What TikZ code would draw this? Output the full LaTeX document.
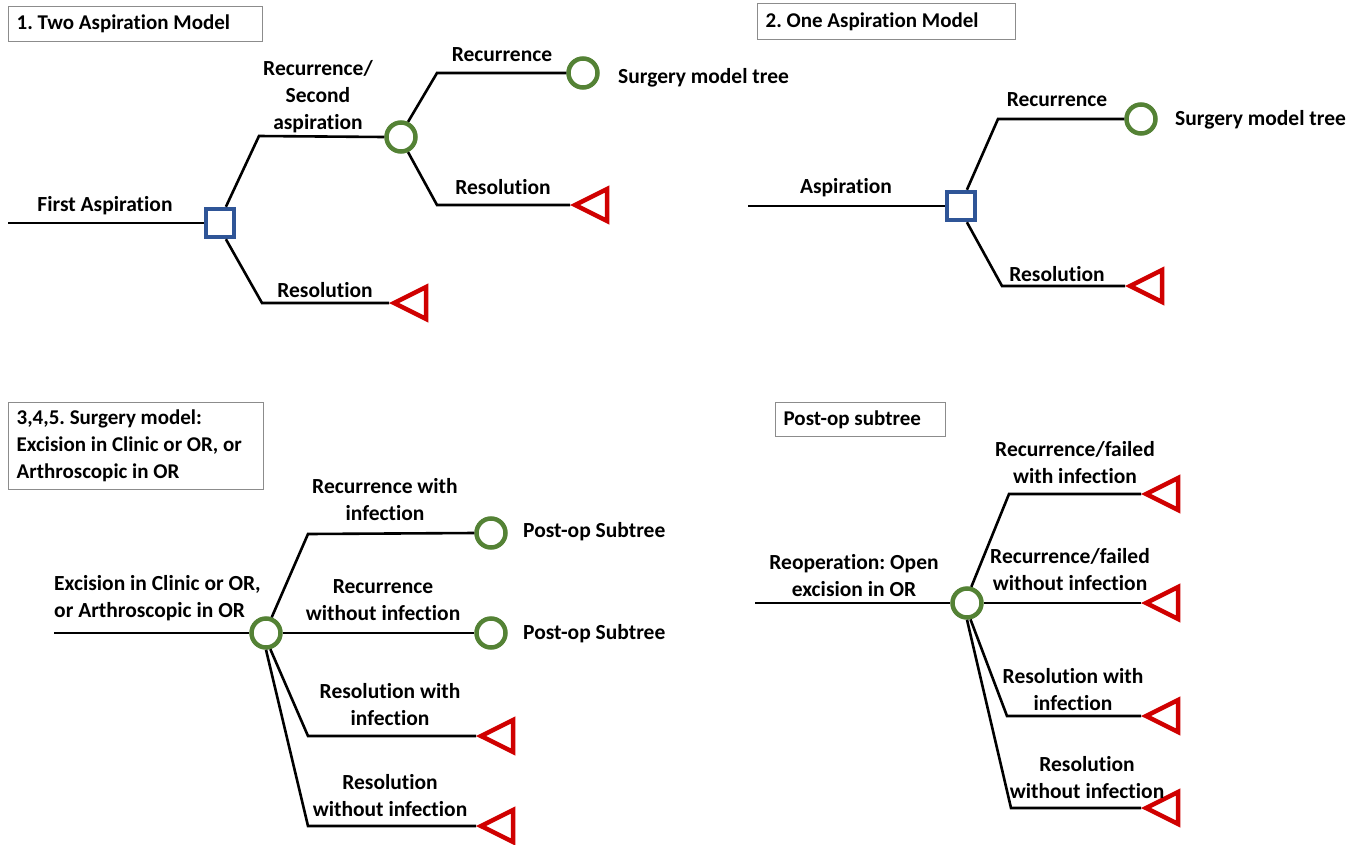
\documentclass[tikz,border=0pt]{standalone}
\usepackage{fontspec}
\setmainfont{Carlito}[Ligatures=NoCommon]
\usetikzlibrary{shapes.geometric}
\frenchspacing

\definecolor{decisionblue}{RGB}{47,85,151}
\definecolor{chancegreen}{RGB}{84,130,53}
\definecolor{endred}{RGB}{208,0,0}
\definecolor{boxgray}{RGB}{140,140,140}

\tikzset{
  branch/.style={line width=2.6pt, black},
  decision/.style={draw=decisionblue, line width=4.5pt, fill=white, minimum size=28pt, inner sep=0pt},
  chance/.style={draw=chancegreen, line width=4.5pt, fill=white, circle, minimum size=29pt, inner sep=0pt},
  terminal/.style={draw=endred, line width=4.5pt, fill=white, isosceles triangle, isosceles triangle apex angle=53,
    shape border rotate=180, minimum size=32pt, inner sep=0pt, anchor=apex},
  lbl/.style={font=\fontsize{21.5}{27}\selectfont\bfseries, align=center, inner sep=0pt},
  titlebox/.style={draw=boxgray, line width=1.3pt, font=\fontsize{21}{27}\selectfont\bfseries, align=flush left,
    anchor=north west, inner xsep=8pt, inner ysep=0pt}
}

\begin{document}
\begin{tikzpicture}[x=1pt,y=-1pt]
\useasboundingbox (0,0) rectangle (1366,844);

% 1. two aspirations
\node[titlebox, text width=238pt, minimum height=35pt] (title1) at (8,6) {1. Two Aspiration Model};
\coordinate (p1start) at (8,223);
\coordinate (p1up) at (259,136);
\coordinate (p1dn) at (262,303);
\coordinate (p1upup) at (437,73);
\coordinate (p1updn) at (437,205);
\node[decision] (d1) at (220,223) {};
\node[chance] (c1) at (401,137) {};
\node[chance] (c2) at (583,73) {};
\node[terminal] (t1) at (389,303) {};
\node[terminal] (t2) at (570,205) {};
\draw[branch] (p1start) -- (d1.west);
\draw[branch] (d1.70) -- (p1up) -- (c1.west);
\draw[branch] (d1.-70) -- (p1dn) -- (t1.apex);
\draw[branch] (c1.65) -- (p1upup) -- (c2.west);
\draw[branch] (c1.-65) -- (p1updn) -- (t2.apex);
\node[lbl] (l1a) at (105,206) {First Aspiration};
\node[lbl] (l1b) at (318,97) {Recurrence/\\Second\\aspiration};
\node[lbl] (l1c) at (325,290) {Resolution};
\node[lbl] (l1d) at (502,55) {Recurrence};
\node[lbl] (l1e) at (503,187) {Resolution};
\node[lbl, anchor=west] (l1f) at (618,78) {Surgery model tree};

% 2. one aspiration
\node[titlebox, text width=242pt, minimum height=36pt] (title2) at (757,3) {2. One Aspiration Model};
\coordinate (p2start) at (748,206);
\coordinate (p2up) at (998,119);
\coordinate (p2dn) at (1002,286);
\node[decision] (d2) at (961,206) {};
\node[chance] (c3) at (1141,119) {};
\node[terminal] (t3) at (1125,286) {};
\draw[branch] (p2start) -- (d2.west);
\draw[branch] (d2.70) -- (p2up) -- (c3.west);
\draw[branch] (d2.-70) -- (p2dn) -- (t3.apex);
\node[lbl] (l2a) at (846,188) {Aspiration};
\node[lbl] (l2b) at (1057,100) {Recurrence};
\node[lbl] (l2c) at (1057,274) {Resolution};
\node[lbl, anchor=west] (l2d) at (1175,120) {Surgery model tree};

% 3,4,5. surgery
\node[titlebox, text width=239pt, minimum height=87pt] (title3) at (8,402) {3,4,5. Surgery model:\\Excision in Clinic or OR, or\\Arthroscopic in OR};
\coordinate (p3start) at (54,633);
\coordinate (p3a) at (308,534);
\coordinate (p3c) at (308,736);
\coordinate (p3d) at (308,826);
\node[chance] (c4) at (266,633) {};
\node[chance] (c5) at (491,533) {};
\node[chance] (c6) at (491,633) {};
\node[terminal] (t4) at (476,736) {};
\node[terminal] (t5) at (476,826) {};
\draw[branch] (p3start) -- (c4.west);
\draw[branch] (c4.70) -- (p3a) -- (c5.west);
\draw[branch] (c4.east) -- (c6.west);
\draw[branch] (c4.-75) -- (p3c) -- (t4.apex);
\draw[branch] (c4.-90) -- (p3d) -- (t5.apex);
\node[lbl, align=left, anchor=west] (l3a) at (54,598) {Excision in Clinic or OR,\\or Arthroscopic in OR};
\node[lbl] (l3b) at (385,500) {Recurrence with\\infection};
\node[lbl] (l3c) at (383,600) {Recurrence\\without infection};
\node[lbl] (l3d) at (390,705) {Resolution with\\infection};
\node[lbl] (l3e) at (390,796) {Resolution\\without infection};
\node[lbl, anchor=west] (l3f) at (523,532) {Post-op Subtree};
\node[lbl, anchor=west] (l3g) at (523,634) {Post-op Subtree};

% post-op subtree
\node[titlebox, text width=154pt, minimum height=34pt] (title4) at (775,402) {Post-op subtree};
\coordinate (p4start) at (755,603);
\coordinate (p4a) at (1009,494);
\coordinate (p4c) at (1007,716);
\coordinate (p4d) at (1011,808);
\node[chance] (c7) at (967,603) {};
\node[terminal] (t6) at (1141,494) {};
\node[terminal] (t7) at (1141,603) {};
\node[terminal] (t8) at (1141,716) {};
\node[terminal] (t9) at (1141,808) {};
\draw[branch] (p4start) -- (c7.west);
\draw[branch] (c7.75) -- (p4a) -- (t6.apex);
\draw[branch] (c7.east) -- (t7.apex);
\draw[branch] (c7.-78) -- (p4c) -- (t8.apex);
\draw[branch] (c7.-90) -- (p4d) -- (t9.apex);
\node[lbl] (l4a) at (854,576) {Reoperation: Open\\excision in OR};
\node[lbl] (l4b) at (1075,463) {Recurrence/failed\\with infection};
\node[lbl] (l4c) at (1070,570) {Recurrence/failed\\without infection};
\node[lbl] (l4d) at (1073,690) {Resolution with\\infection};
\node[lbl] (l4e) at (1087,778) {Resolution\\without infection};
\end{tikzpicture}
\end{document}
